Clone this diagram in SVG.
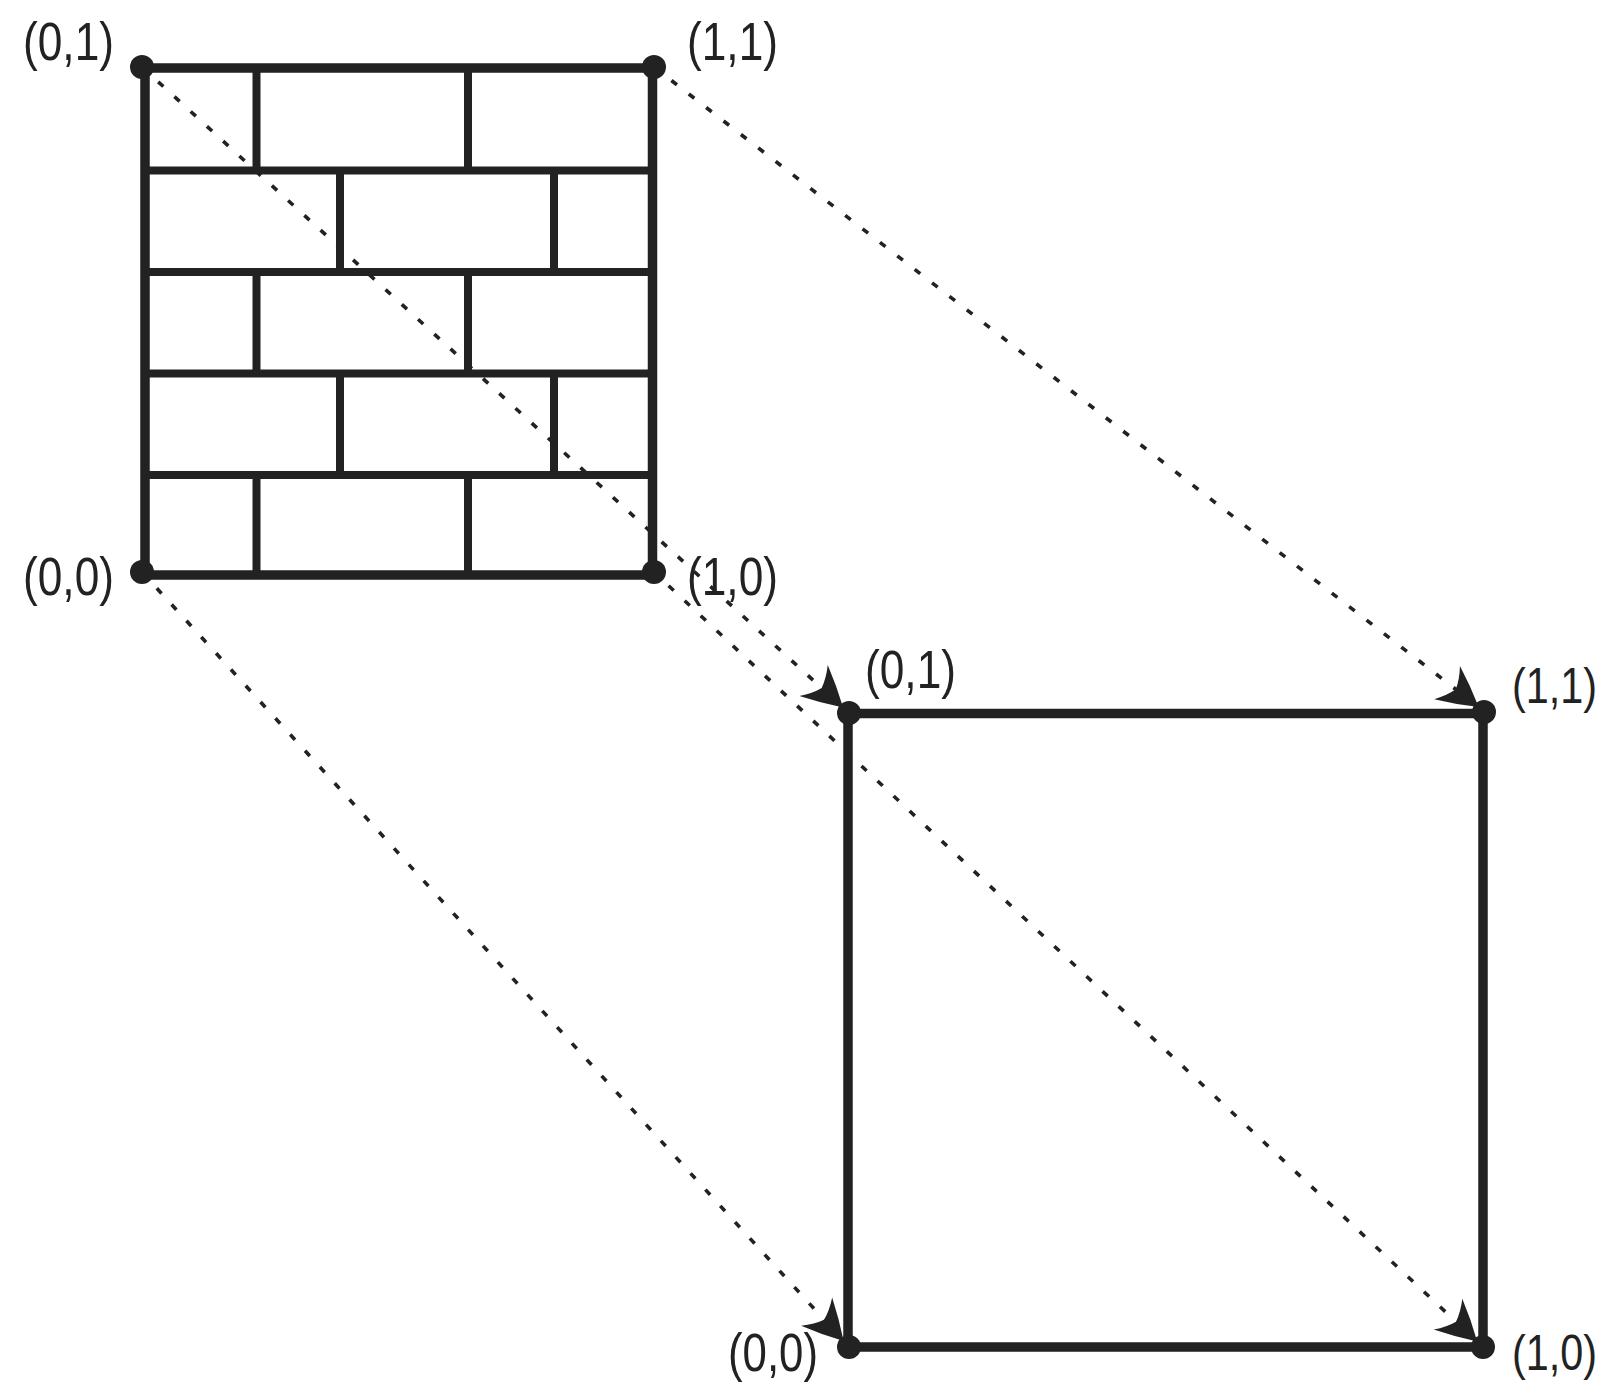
<svg xmlns="http://www.w3.org/2000/svg" width="1613" height="1384" viewBox="0 0 1613 1384">
<style>
.frame{fill:none;stroke:#222;stroke-width:9.5;stroke-linecap:square}
.brick{stroke:#222;stroke-width:8}
.dot{fill:#222}
.lbl{font-family:"Liberation Sans",Arial,sans-serif;font-size:54px;fill:#222}
.lbr{font-size:50px}
.conn{fill:none;stroke:#222;stroke-width:3.6;stroke-dasharray:7 15}
</style>
<defs>
<marker id="arr" markerUnits="userSpaceOnUse" markerWidth="50" markerHeight="50" refX="44" refY="22" orient="auto" overflow="visible">
<path d="M44,22 Q24,10 4,1 Q12,12 15,22 Q12,32 4,43 Q24,34 44,22 Z" fill="#222"/>
</marker>
</defs>
<rect width="1613" height="1384" fill="#fff"/>
<g id="wall">
<g class="brick">
<line x1="145" y1="170.5" x2="652.5" y2="170.5"/>
<line x1="145" y1="272" x2="652.5" y2="272"/>
<line x1="145" y1="373.5" x2="652.5" y2="373.5"/>
<line x1="145" y1="475" x2="652.5" y2="475"/>
<line x1="256.5" y1="68" x2="256.5" y2="170.5"/>
<line x1="468" y1="68" x2="468" y2="170.5"/>
<line x1="340" y1="170.5" x2="340" y2="272"/>
<line x1="554" y1="170.5" x2="554" y2="272"/>
<line x1="256.5" y1="272" x2="256.5" y2="373.5"/>
<line x1="468" y1="272" x2="468" y2="373.5"/>
<line x1="340" y1="373.5" x2="340" y2="475"/>
<line x1="554" y1="373.5" x2="554" y2="475"/>
<line x1="256.5" y1="475" x2="256.5" y2="575"/>
<line x1="468" y1="475" x2="468" y2="575"/>
</g>
<rect class="frame" x="145" y="68" width="507.5" height="507"/>
</g>
<g id="target">
<rect class="frame" x="848" y="713.5" width="635" height="633.5"/>
</g>
<g id="connectors">
<line class="conn" x1="158.2" y1="81.8" x2="843.1" y2="707.6" marker-end="url(#arr)"/>
<line class="conn" x1="671.4" y1="80.5" x2="1478.7" y2="707.1" marker-end="url(#arr)"/>
<line class="conn" x1="156.8" y1="588.3" x2="843.6" y2="1341.1" marker-end="url(#arr)"/>
<line class="conn" x1="668.6" y1="585.7" x2="1477.2" y2="1341.5" marker-end="url(#arr)"/>
</g>
<g id="src-01"><circle class="dot" cx="142" cy="67" r="12"/><text class="lbl" x="23" y="60" textLength="91" lengthAdjust="spacingAndGlyphs">(0,1)</text></g>
<g id="src-11"><circle class="dot" cx="654" cy="67" r="12"/><text class="lbl" x="687" y="60" textLength="91" lengthAdjust="spacingAndGlyphs">(1,1)</text></g>
<g id="src-00"><circle class="dot" cx="142" cy="572" r="12"/><text class="lbl" x="23" y="595" textLength="91" lengthAdjust="spacingAndGlyphs">(0,0)</text></g>
<g id="src-10"><circle class="dot" cx="654" cy="572" r="12"/><text class="lbl" x="687" y="595" textLength="91" lengthAdjust="spacingAndGlyphs">(1,0)</text></g>
<g id="dst-01"><circle class="dot" cx="849" cy="713" r="12"/><text class="lbl" x="865" y="688" textLength="91" lengthAdjust="spacingAndGlyphs">(0,1)</text></g>
<g id="dst-11"><circle class="dot" cx="1484" cy="712" r="12"/><text class="lbl lbr" x="1597" y="703" text-anchor="end" textLength="85" lengthAdjust="spacingAndGlyphs">(1,1)</text></g>
<g id="dst-00"><circle class="dot" cx="849" cy="1347" r="12"/><text class="lbl" x="728" y="1371" textLength="90" lengthAdjust="spacingAndGlyphs">(0,0)</text></g>
<g id="dst-10"><circle class="dot" cx="1483" cy="1347" r="12"/><text class="lbl lbr" x="1597" y="1370" text-anchor="end" textLength="85" lengthAdjust="spacingAndGlyphs">(1,0)</text></g>
</svg>
